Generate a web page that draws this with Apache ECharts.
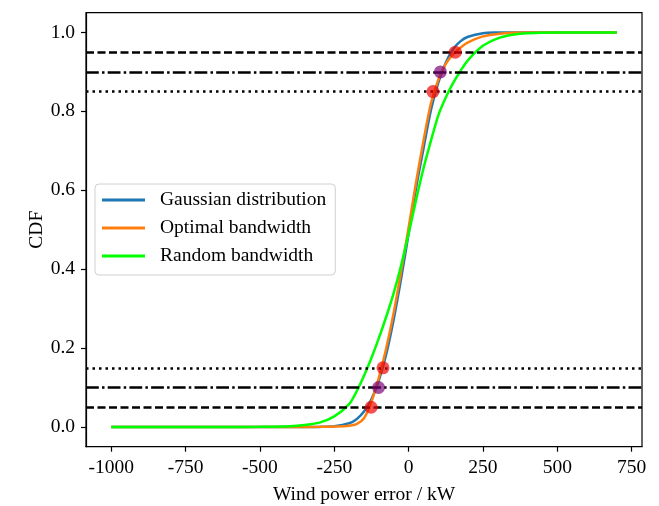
<!DOCTYPE html>
<html>
<head>
<meta charset="utf-8">
<script src="https://cdn.jsdelivr.net/npm/echarts@6/dist/echarts.min.js"></script>
<style>
  html, body { margin: 0; padding: 0; background: #fff; }
  #mychart { width: 659px; height: 506px; }
</style>
</head>
<body>
<div id="mychart"></div>
<script>
// wind power error (kW) where the curves were read
var errX = [-1000, -600, -500, -400, -350, -300, -250, -200, -175, -150, -125, -100, -75, -50, -25,
            0, 25, 50, 75, 100, 125, 150, 175, 200, 250, 300, 350, 400, 500, 600, 700]
var gaussCdf = [0, 0, 0, 0, 0.00002, 0.0002, 0.0017, 0.0093, 0.0197, 0.039, 0.07, 0.118, 0.185, 0.273, 0.377,
                0.49, 0.605, 0.705, 0.803, 0.873, 0.923, 0.958, 0.978, 0.989, 0.998, 0.9997, 1, 1, 1, 1, 1]
var optimalCdf = [0, 0, 0, 0, 0, 0.0003, 0.001, 0.003, 0.007, 0.022, 0.064, 0.125, 0.2, 0.29, 0.395,
                  0.505, 0.62, 0.725, 0.82, 0.88, 0.92, 0.945, 0.962, 0.975, 0.99, 0.996, 0.999, 1, 1, 1, 1]
var randomCdf = [0, 0, 0.0005, 0.002, 0.005, 0.011, 0.027, 0.058, 0.09, 0.13, 0.175, 0.225, 0.28, 0.34, 0.41,
                 0.49, 0.575, 0.655, 0.725, 0.79, 0.835, 0.872, 0.903, 0.93, 0.966, 0.985, 0.994, 0.998, 1, 1, 1]

// quantile markers
var qX = [-126, -101, -86, 82, 107, 157]
var qY = [0.05, 0.1, 0.15, 0.85, 0.9, 0.95]
var qColor = ['rgba(240,0,0,0.85)', 'rgba(120,0,120,0.85)', 'rgba(240,0,0,0.85)',
              'rgba(240,0,0,0.85)', 'rgba(120,0,120,0.85)', 'rgba(240,0,0,0.85)']

// reference levels
var dashLevels = [0.05, 0.95]
var dashDotLevels = [0.1, 0.9]
var dotLevels = [0.15, 0.85]

var xTicks = [-1000, -750, -500, -250, 0, 250, 500, 750]
var yTicks = [0, 0.2, 0.4, 0.6, 0.8, 1.0]

var names = ['Gaussian distribution', 'Optimal bandwidth', 'Random bandwidth']
var colors = ['#1f77b4', '#ff7f0e', '#00ff00']
var values = [gaussCdf, optimalCdf, randomCdf]

var font = 'Liberation Serif'
var fs = 19.5

var chart = echarts.init(document.getElementById('mychart'))

var series = []
for (var i = 0; i < names.length; i++) {
    series.push({
        name: names[i],
        type: 'line',
        data: errX.map(function (x, j) { return [x, values[i][j]] }),
        smooth: 0.3,
        showSymbol: false,
        color: colors[i],
        lineStyle: { width: 2.5, color: colors[i] },
        z: 2 + i
    })
}

series.push({
    name: 'quantiles',
    type: 'scatter',
    data: qX.map(function (x, j) {
        return { value: [x, qY[j]], itemStyle: { color: qColor[j] } }
    }),
    symbolSize: 13,
    z: 6
})

function levelLine(levels, pattern) {
    return {
        type: 'line',
        data: [],
        z: 7,
        markLine: {
            silent: true,
            symbol: 'none',
            label: { show: false },
            lineStyle: { color: '#000', width: 2.5, type: pattern },
            data: levels.map(function (v) { return { yAxis: v } }),
            animation: false
        }
    }
}
series.push(levelLine(dashLevels, [8, 3.5]))
series.push(levelLine(dashDotLevels, [12.8, 3.2, 2.5, 3.2]))
series.push(levelLine(dotLevels, [2.5, 4]))

var option = {
    animation: false,
    backgroundColor: '#fff',
    textStyle: { fontFamily: font },
    grid: { left: 86, right: 17, top: 12.7, bottom: 59.3, show: true, borderColor: '#000', borderWidth: 1.2,
        outerBoundsMode: 'none', containLabel: false },
    legend: {
        data: names,
        orient: 'vertical',
        left: 95,
        top: 184,
        icon: 'rect',
        itemWidth: 43,
        itemHeight: 3,
        itemGap: 8,
        padding: [6, 9, 9, 7],
        borderColor: '#d0d0d0',
        borderWidth: 1,
        borderRadius: 4,
        backgroundColor: 'rgba(255,255,255,0.8)',
        textStyle: { fontFamily: font, fontSize: fs, color: '#000', lineHeight: 20, padding: [0, 0, 0, 10] }
    },
    xAxis: {
        type: 'value',
        min: -1085,
        max: 785,
        name: 'Wind power error / kW',
        nameLocation: 'middle',
        nameGap: 38,
        nameMoveOverlap: false,
        nameTextStyle: { fontFamily: font, fontSize: fs, color: '#000' },
        splitLine: { show: false },
        axisLine: { show: true, onZero: false, lineStyle: { color: '#000', width: 1.2 } },
        axisTick: { show: true, customValues: xTicks, length: 5, inside: false, lineStyle: { color: '#000', width: 1.2 } },
        axisLabel: { customValues: xTicks, margin: 11, color: '#000', fontFamily: font, fontSize: fs,
            formatter: function (v) { return String(v) } }
    },
    yAxis: {
        type: 'value',
        min: -0.05,
        max: 1.05,
        name: 'CDF',
        nameLocation: 'middle',
        nameGap: 39,
        nameMoveOverlap: false,
        nameTextStyle: { fontFamily: font, fontSize: fs, color: '#000' },
        splitLine: { show: false },
        axisLine: { show: true, onZero: false, lineStyle: { color: '#000', width: 1.2 } },
        axisTick: { show: true, customValues: yTicks, length: 5, inside: false, lineStyle: { color: '#000', width: 1.2 } },
        axisLabel: { customValues: yTicks, margin: 11, color: '#000', fontFamily: font, fontSize: fs,
            formatter: function (v) { return v.toFixed(1) } }
    },
    series: series
}
chart.setOption(option)
</script>
</body>
</html>
